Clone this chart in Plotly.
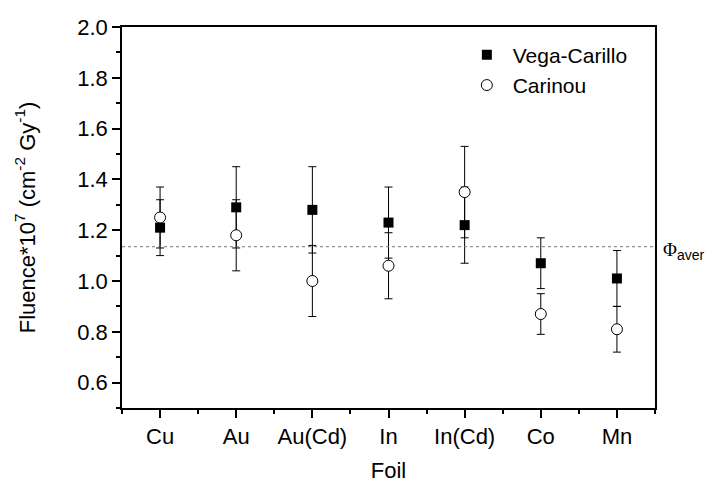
import plotly.graph_objects as go

foils = ["Cu", "Au", "Au(Cd)", "In", "In(Cd)", "Co", "Mn"]
vega = [1.21, 1.29, 1.28, 1.23, 1.22, 1.07, 1.01]
vega_err = [0.11, 0.16, 0.17, 0.14, 0.15, 0.10, 0.11]
carinou = [1.25, 1.18, 1.00, 1.06, 1.35, 0.87, 0.81]
carinou_err = [0.12, 0.14, 0.14, 0.13, 0.18, 0.08, 0.09]
phi_aver = 1.135

xpos = list(range(len(foils)))
FONT = "Liberation Sans, Arial, sans-serif"

fig = go.Figure()
fig.add_trace(go.Scatter(
    x=xpos, y=vega, mode="markers", name="\u00a0Vega-Carillo",
    marker=dict(symbol="square", size=10, color="black", line=dict(width=0)),
    error_y=dict(type="data", array=vega_err, color="black", thickness=1, width=4),
))
fig.add_trace(go.Scatter(
    x=xpos, y=carinou, mode="markers", name="\u00a0Carinou",
    marker=dict(symbol="circle", size=11, color="white", line=dict(width=1, color="black")),
    error_y=dict(type="data", array=carinou_err, color="black", thickness=1, width=4),
))

fig.add_shape(type="line", xref="paper", x0=0, x1=1, yref="y", y0=phi_aver, y1=phi_aver,
              line=dict(color="#777777", width=1, dash="dot"))
fig.add_annotation(xref="paper", x=1.0, xshift=6, yref="y", y=phi_aver, xanchor="left",
                   yanchor="middle", yshift=-4, showarrow=False,
                   text='<span style="font-family:Liberation Serif;font-size:19px">Φ</span><sub>aver</sub>',
                   font=dict(family=FONT, size=20, color="black"))

fig.update_layout(
    width=709, height=491,
    margin=dict(l=122, r=54, t=27, b=71),
    paper_bgcolor="white", plot_bgcolor="white",
    font=dict(family=FONT, size=22, color="black"),
    showlegend=True,
    legend=dict(x=0.647, y=0.98, xanchor="left", yanchor="top",
                bgcolor="rgba(0,0,0,0)", font=dict(size=21), itemwidth=30,
                tracegroupgap=0),
    xaxis=dict(
        range=[-0.5, 6.5], tickvals=xpos, ticktext=foils,
        showline=True, linecolor="black", linewidth=1.5, mirror=True,
        ticks="outside", ticklen=8, tickcolor="black", tickwidth=1.5,
        showgrid=False, zeroline=False,
        tickfont=dict(size=22),
        minor=dict(ticks="outside", dtick=0.5, tick0=-0.5, ticklen=4, tickcolor="black", tickwidth=1.5),
        title=dict(text="Foil", font=dict(size=22), standoff=14),
    ),
    yaxis=dict(
        range=[0.5, 2.0], tickvals=[0.6, 0.8, 1.0, 1.2, 1.4, 1.6, 1.8, 2.0],
        tickformat=".1f",
        showline=True, linecolor="black", linewidth=1.5, mirror=True,
        ticks="outside", ticklen=8, tickcolor="black", tickwidth=1.5,
        showgrid=False, zeroline=False,
        tickfont=dict(size=22),
        minor=dict(ticks="outside", dtick=0.1, tick0=0.5, ticklen=4, tickcolor="black", tickwidth=1.5),
        title=dict(text="Fluence*10<sup>7</sup> (cm<sup>-2</sup> Gy<sup>-1</sup>)", font=dict(size=22), standoff=36),
    ),
)

fig.write_html("out.html",
               config={"displayModeBar": False},
               post_script="document.body.style.margin='0';document.body.style.overflow='hidden';")
